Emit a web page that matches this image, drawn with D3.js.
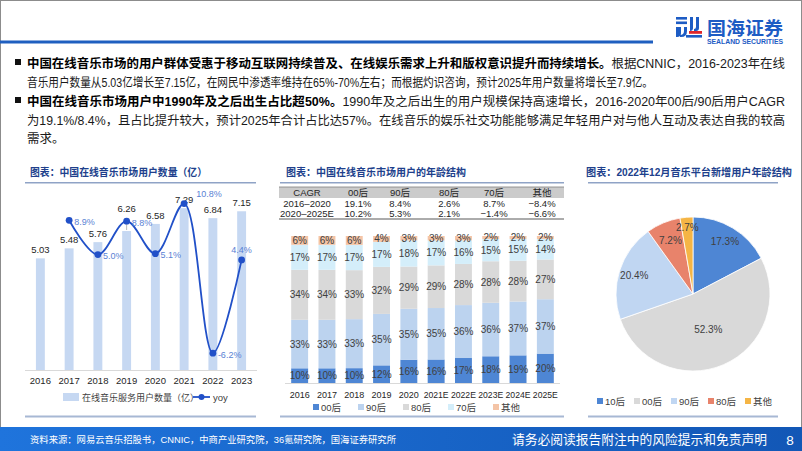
<!DOCTYPE html>
<html><head><meta charset="utf-8">
<script src="https://cdn.jsdelivr.net/npm/d3@7"></script>
<style>
html,body{margin:0;padding:0;background:#fff;}
svg{display:block;}
text{font-family:"Liberation Sans","Noto Sans CJK SC",sans-serif;}
</style></head><body>
<svg id="c" width="802" height="451"></svg>
<script>
// ---------------- DATA ----------------
const years1 = ["2016","2017","2018","2019","2020","2021","2022","2023"];
const users = [5.03,5.48,5.76,6.26,6.58,7.29,6.84,7.15];
const yoy = [null,8.9,5.0,8.8,5.1,10.8,-6.2,4.4];
const yoyLabelPos = ["r","r","r","r","r","ur","r","u"];
const userLabelLift = [0,0,0,7,0,0,0,0];

const years2 = ["2016","2017","2018","2019","2020","2021E","2022E","2023E","2024E","2025E"];
const ageKeys = ["00后","90后","80后","70后","其他"];
const age00 = [10,10,10,12,16,16,17,18,19,20];
const age90 = [33,33,33,35,35,35,36,36,37,37];
const age80 = [34,34,33,32,29,29,28,28,28,27];
const age70 = [17,17,17,17,18,17,16,15,15,14];
const ageOther = [6,6,6,4,3,3,3,2,2,2];

const cagrHeader = ["CAGR","00后","90后","80后","70后","其他"];
const cagrRow1 = ["2016–2020","19.1%","8.4%","2.6%","8.7%","−8.4%"];
const cagrRow2 = ["2020–2025E","10.2%","5.3%","2.1%","−1.4%","−6.6%"];

const pieLabels = ["10后","00后","90后","80后","其他"];
const pieValues = [17.3,52.3,20.4,7.2,2.7];

// ---------------- SETUP ----------------
const svg = d3.select("#c");
const W = 802, H = 451;
svg.append("rect").attr("x",0.5).attr("y",0.5).attr("width",W-1).attr("height",H-1)
  .attr("fill","#fff").attr("stroke","#8c8c8c").attr("stroke-width",1);

// header line
svg.append("rect").attr("x",0).attr("y",40.5).attr("width",653).attr("height",3).attr("fill","#1f5fc0");

// logo
const lg = svg.append("g");
const blue = "#1d5cc4";
lg.append("rect").attr("x",676).attr("y",17).attr("width",11).attr("height",2.6).attr("fill",blue);
lg.append("rect").attr("x",676).attr("y",21.5).attr("width",11).attr("height",2.6).attr("fill",blue);
lg.append("path").attr("d","M676,27 h5 v6 q0,4 -4,4 h-1 z").attr("fill",blue);
lg.append("path").attr("d","M684,27 h3 v4 q0,6 -6,6 h-1 v-2 q4,0 4,-4 z").attr("fill",blue);
lg.append("path").attr("d","M690,17 h3 v11 q0,3 -3,3 z").attr("fill",blue);
lg.append("path").attr("d","M696,17 h3 v11 q0,3 -3,3 h-2 v-2 q2,0 2,-2 z").attr("fill",blue);
lg.append("rect").attr("x",689).attr("y",31).attr("width",13).attr("height",2.8).attr("fill","#e0262b");
lg.append("rect").attr("x",686).attr("y",35).attr("width",16).attr("height",2.6).attr("fill",blue);
lg.append("text").attr("x",707).attr("y",35).attr("font-size",18.5).attr("font-weight","bold")
  .attr("fill",blue).attr("textLength",76).attr("lengthAdjust","spacingAndGlyphs").text("国海证券");
lg.append("text").attr("x",707).attr("y",43.5).attr("font-size",6.4).attr("font-weight","bold")
  .attr("fill",blue).attr("textLength",76).attr("lengthAdjust","spacingAndGlyphs").text("SEALAND SECURITIES");

// bullet text
const bulletLines = [
  {y:68, bullet:true, parts:[{t:"中国在线音乐市场的用户群体受惠于移动互联网持续普及、在线娱乐需求上升和版权意识提升而持续增长。",b:true},{t:"根据CNNIC，2016-2023年在线"}], w:758},
  {y:87, parts:[{t:"音乐用户数量从5.03亿增长至7.15亿，在网民中渗透率维持在65%-70%左右；而根据灼识咨询，预计2025年用户数量将增长至7.9亿。"}], w:626},
  {y:106, bullet:true, parts:[{t:"中国在线音乐市场用户中1990年及之后出生占比超50%。",b:true},{t:"1990年及之后出生的用户规模保持高速增长，2016-2020年00后/90后用户CAGR"}], w:758},
  {y:125, parts:[{t:"为19.1%/8.4%，且占比提升较大，预计2025年合计占比达57%。在线音乐的娱乐社交功能能够满足年轻用户对与他人互动及表达自我的较高"}], w:758},
  {y:143, parts:[{t:"需求。"}]}
];
bulletLines.forEach(l=>{
  if(l.bullet) svg.append("rect").attr("x",15).attr("y",l.y-9).attr("width",6).attr("height",6).attr("fill","#111");
  const t = svg.append("text").attr("x",27).attr("y",l.y).attr("font-size",12.5).attr("fill","#1a1a1a");
  if(l.w) t.attr("textLength",l.w).attr("lengthAdjust","spacingAndGlyphs");
  l.parts.forEach(p=>{
    t.append("tspan").attr("font-weight",p.b?"bold":"normal").attr("fill",p.b?"#000":"#1a1a1a").text(p.t);
  });
});

// panel titles + lines
const titleColor = "#203f8c";
function panelTitle(x, y, txt, x0, x1, w){
  const t = svg.append("text").attr("x",x).attr("y",y).attr("font-size",10.5).attr("font-weight","bold")
    .attr("fill",titleColor).text(txt);
  if(w) t.attr("textLength",w).attr("lengthAdjust","spacingAndGlyphs");
  svg.append("rect").attr("x",x0).attr("y",182).attr("width",x1-x0).attr("height",1.5).attr("fill","#8fa3c6");
  svg.append("rect").attr("x",x0).attr("y",415.5).attr("width",x1-x0).attr("height",2).attr("fill","#a7b8d4");
}
panelTitle(30,176,"图表：中国在线音乐市场用户数量（亿）",25,256,177);
panelTitle(286,176,"图表：中国在线音乐市场用户的年龄结构",280,564,180);
panelTitle(586,176,"图表：2022年12月音乐平台新增用户年龄结构",588,778,206);

// ---------------- PANEL 1 ----------------
const p1 = svg.append("g");
const x1 = d3.scaleBand().domain(years1).range([26,256]).paddingInner(0.69).paddingOuter(0.345);
const yBar = d3.scaleLinear().domain([0,8]).range([370,192.4]);
const yLine = d3.scaleLinear().domain([-8,12]).range([369,193]);
const barColor = "#c6d8f2";
const lineColor = "#2150c8";
const lblBlue = "#5a82d4";

p1.selectAll("rect.b").data(users).join("rect").attr("class","b")
  .attr("x",(d,i)=>x1(years1[i])).attr("width",x1.bandwidth())
  .attr("y",d=>yBar(d)).attr("height",d=>yBar(0)-yBar(d)).attr("fill",barColor);
p1.append("line").attr("x1",25).attr("x2",257).attr("y1",370.5).attr("y2",370.5).attr("stroke","#d9d9d9");
users.forEach((d,i)=>{
  if(userLabelLift[i]) p1.append("line").attr("x1",x1(years1[i])+x1.bandwidth()/2).attr("x2",x1(years1[i])+x1.bandwidth()/2)
    .attr("y1",yBar(d)-1).attr("y2",yBar(d)-9).attr("stroke","#a6a6a6").attr("stroke-width",0.8);
});
p1.selectAll("text.v").data(users).join("text").attr("class","v")
  .attr("x",(d,i)=>x1(years1[i])+x1.bandwidth()/2).attr("y",(d,i)=>yBar(d)-5-2*userLabelLift[i])
  .attr("text-anchor","middle").attr("font-size",9.5).attr("fill","#262626").text(d=>d.toFixed(2));
p1.selectAll("text.x").data(years1).join("text").attr("class","x")
  .attr("x",d=>x1(d)+x1.bandwidth()/2).attr("y",384).attr("text-anchor","middle")
  .attr("font-size",9.5).attr("fill","#262626").text(d=>d);

const linePts = yoy.map((v,i)=>({v,i})).filter(d=>d.v!==null);
const lineGen = d3.line().x(d=>x1(years1[d.i])+x1.bandwidth()/2).y(d=>yLine(d.v)).curve(d3.curveCatmullRom.alpha(0.5));
p1.append("path").attr("d",lineGen(linePts)).attr("fill","none").attr("stroke",lineColor).attr("stroke-width",1.8);
p1.selectAll("circle.m").data(linePts).join("circle").attr("class","m")
  .attr("cx",d=>x1(years1[d.i])+x1.bandwidth()/2).attr("cy",d=>yLine(d.v)).attr("r",3.4).attr("fill",lineColor);
p1.selectAll("text.yl").data(linePts).join("text").attr("class","yl")
  .attr("x",d=>{const cx=x1(years1[d.i])+x1.bandwidth()/2; const p=yoyLabelPos[d.i];
     return p==="u"?cx:(p==="ur"?cx+12:cx+5);})
  .attr("y",d=>{const cy=yLine(d.v); const p=yoyLabelPos[d.i];
     return p==="u"?cy-7:(p==="ur"?cy-7:cy+4.5);})
  .attr("text-anchor",d=>yoyLabelPos[d.i]==="u"?"middle":"start")
  .attr("font-size",9).attr("fill",lblBlue).text(d=>d.v.toFixed(1)+"%");

// legend p1
p1.append("rect").attr("x",63).attr("y",393).attr("width",16).attr("height",8).attr("fill",barColor);
p1.append("text").attr("x",82).attr("y",400.5).attr("font-size",9).attr("fill","#404040").text("在线音乐服务用户数量（亿）");
p1.append("line").attr("x1",193).attr("x2",210).attr("y1",397).attr("y2",397).attr("stroke",lineColor).attr("stroke-width",1.8);
p1.append("circle").attr("cx",201.5).attr("cy",397).attr("r",3).attr("fill",lineColor);
p1.append("text").attr("x",213).attr("y",400.5).attr("font-size",9.5).attr("fill","#404040").text("yoy");

// ---------------- PANEL 2 ----------------
const p2 = svg.append("g");
const colX = [307,358,400,449,494,542];
p2.append("rect").attr("x",279).attr("y",187).attr("width",285).attr("height",11).attr("fill","#cbcbcb");
p2.append("line").attr("x1",279).attr("x2",564).attr("y1",187).attr("y2",187).attr("stroke","#7f7f7f").attr("stroke-width",0.8);
p2.append("line").attr("x1",279).attr("x2",564).attr("y1",219).attr("y2",219).attr("stroke","#595959").attr("stroke-width",1);
[[cagrHeader,196],[cagrRow1,206.5],[cagrRow2,216.5]].forEach(([row,y])=>{
  p2.selectAll(null).data(row).join("text").attr("x",(d,i)=>colX[i]).attr("y",y)
    .attr("text-anchor","middle").attr("font-size",9.5).attr("fill","#262626").text(d=>d);
});

const ageColors = ["#4e86d4","#bcd3ef","#d9d9d9","#d4eefa","#f4c4a6"];
const ageSeries = [age00,age90,age80,age70,ageOther];
const rows = years2.map((y,i)=>{const o={year:y}; ageKeys.forEach((k,j)=>o[k]=ageSeries[j][i]); return o;});
const stack = d3.stack().keys(ageKeys).offset(d3.stackOffsetExpand)(rows);
const x2 = d3.scaleBand().domain(years2).range([286,559]).paddingInner(0.38).paddingOuter(0.19);
const y3 = d3.scaleLinear().domain([0,1]).range([383,236]);
stack.forEach((s,j)=>{
  const g = p2.append("g");
  g.selectAll("rect").data(s).join("rect")
    .attr("x",d=>x2(d.data.year)).attr("width",x2.bandwidth())
    .attr("y",d=>y3(d[1])).attr("height",d=>y3(d[0])-y3(d[1])).attr("fill",ageColors[j]);
  g.selectAll("text").data(s).join("text")
    .attr("x",d=>x2(d.data.year)+x2.bandwidth()/2).attr("y",d=>(y3(d[0])+y3(d[1]))/2+3.5)
    .attr("text-anchor","middle").attr("font-size",10).attr("fill","#404040")
    .text(d=>d.data[s.key]+"%");
});
p2.append("line").attr("x1",285).attr("x2",560).attr("y1",383.5).attr("y2",383.5).attr("stroke","#d9d9d9");
p2.selectAll("text.x2").data(years2).join("text").attr("class","x2")
  .attr("x",d=>x2(d)+x2.bandwidth()/2).attr("y",397.5).attr("text-anchor","middle")
  .attr("font-size",9).attr("fill","#262626")
  .each(function(d){ if(d.length>4) d3.select(this).attr("textLength",25).attr("lengthAdjust","spacingAndGlyphs"); })
  .text(d=>d);
ageKeys.forEach((k,j)=>{
  const lx = 313 + j*45;
  p2.append("rect").attr("x",lx).attr("y",404).attr("width",6).attr("height",6).attr("fill",ageColors[j]);
  p2.append("text").attr("x",lx+8).attr("y",410.5).attr("font-size",9.5).attr("fill","#404040").text(k);
});

// ---------------- PANEL 3 ----------------
const p3 = svg.append("g").attr("transform","translate(693,294)");
const pieColors = ["#4e86d4","#d9d9d9","#c0d6f2","#e8836b","#f5b545"];
const R = 77;
const arcs = d3.pie().sort(null).value(d=>d)(pieValues);
const arc = d3.arc().innerRadius(0).outerRadius(R);
p3.selectAll("path").data(arcs).join("path").attr("d",arc)
  .attr("fill",(d,i)=>pieColors[i]).attr("stroke","#fff").attr("stroke-width",0.8);
p3.selectAll("text").data(arcs).join("text")
  .attr("transform",(d,i)=>{
    const r = d.value>40 ? R*0.5 : (d.value<5 ? R*0.87 : (d.value<10 ? R*0.76 : R*0.8));
    const a = (d.startAngle+d.endAngle)/2;
    return `translate(${Math.sin(a)*r},${-Math.cos(a)*r+3.5})`;})
  .attr("text-anchor","middle").attr("font-size",10).attr("fill","#404040")
  .text(d=>d.value.toFixed(1)+"%");
pieLabels.forEach((k,j)=>{
  const lx = 597 + j*37;
  svg.append("rect").attr("x",lx).attr("y",398).attr("width",6).attr("height",6).attr("fill",pieColors[j]);
  svg.append("text").attr("x",lx+8).attr("y",404.5).attr("font-size",9.5).attr("fill","#404040").text(k);
});

// ---------------- FOOTER ----------------
const defs = svg.append("defs");
const gr = defs.append("linearGradient").attr("id","fg").attr("x1","0").attr("x2","1");
gr.append("stop").attr("offset","0").attr("stop-color","#1f74dc");
gr.append("stop").attr("offset","1").attr("stop-color","#1257b6");
svg.append("rect").attr("x",0).attr("y",427).attr("width",W).attr("height",24).attr("fill","url(#fg)");
svg.append("text").attr("x",30).attr("y",443).attr("font-size",9.5).attr("fill","#fff")
  .attr("textLength",366).attr("lengthAdjust","spacingAndGlyphs")
  .text("资料来源：网易云音乐招股书，CNNIC，中商产业研究院，36氪研究院，国海证券研究所");
svg.append("text").attr("x",512).attr("y",444).attr("font-size",13).attr("fill","#fff")
  .attr("textLength",255).attr("lengthAdjust","spacingAndGlyphs")
  .text("请务必阅读报告附注中的风险提示和免责声明");
svg.append("text").attr("x",790).attr("y",444.5).attr("font-size",13.5).attr("fill","#fff").attr("text-anchor","middle").text("8");
</script>
</body></html>
